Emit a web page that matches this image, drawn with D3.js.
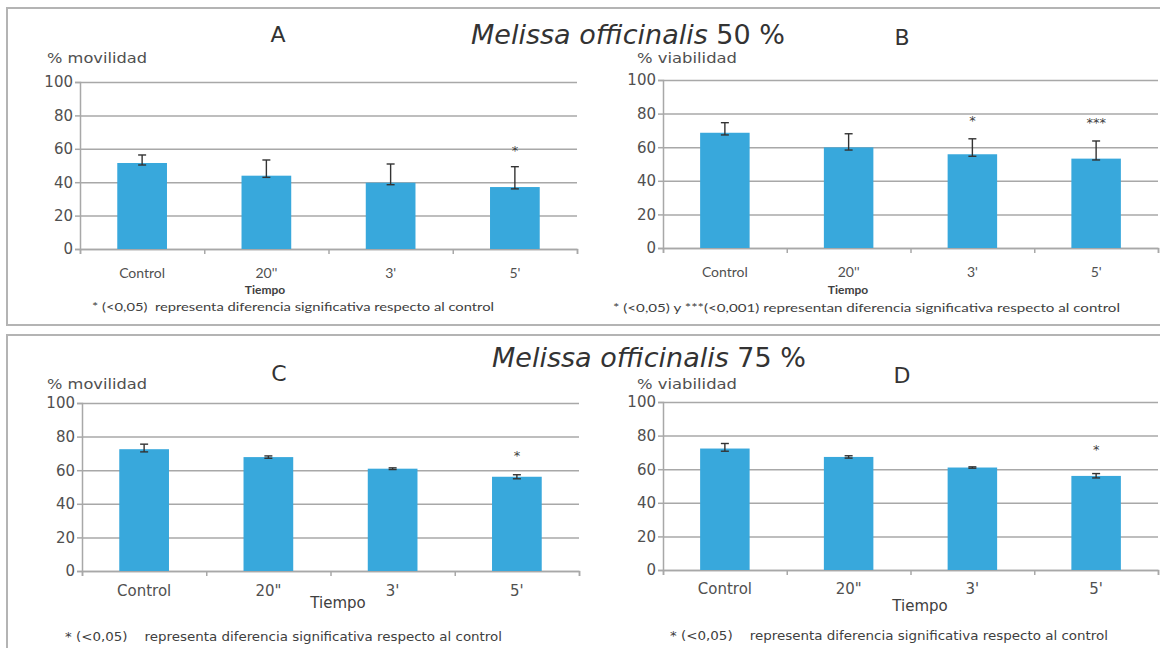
<!DOCTYPE html>
<html>
<head>
<meta charset="utf-8">
<script src="https://cdn.jsdelivr.net/npm/d3@7"></script>
<style>
  body { margin: 0; background: #fff; }
  svg text { fill: #404040; }
</style>
</head>
<body>
<div id="chart"></div>
<script>
// data
var catsTop = ["Control", "20''", "3'", "5'"];
var catsBottom = ["Control", "20\"", "3'", "5'"];
var yTicks = [0, 20, 40, 60, 80, 100];

// A: % movilidad, 50 %
var movil50 = [51.5, 43.9, 39.7, 37.1];
var movil50Low = [50.3, 42.9, 38.5, 36.0];
var movil50High = [56.3, 53.3, 50.9, 49.3];
var movil50Sig = ["", "", "", "*"];
var movil50SigAt = [0, 0, 0, 61];

// B: % viabilidad, 50 %
var viab50 = [68.6, 59.9, 55.8, 53.2];
var viab50Low = [67.3, 58.3, 54.6, 52.4];
var viab50High = [74.6, 68.0, 65.0, 63.7];
var viab50Sig = ["", "", "*", "***"];
var viab50SigAt = [0, 0, 78, 77];

// C: % movilidad, 75 %
var movil75 = [72.5, 67.8, 60.9, 56.1];
var movil75Low = [70.9, 67.1, 60.4, 54.9];
var movil75High = [75.5, 68.5, 61.4, 57.3];
var movil75Sig = ["", "", "", "*"];
var movil75SigAt = [0, 0, 0, 71];

// D: % viabilidad, 75 %
var viab75 = [72.3, 67.3, 61.0, 56.0];
var viab75Low = [70.7, 66.6, 60.6, 54.8];
var viab75High = [75.3, 68.0, 61.4, 57.4];
var viab75Sig = ["", "", "", "*"];
var viab75SigAt = [0, 0, 0, 74];

var svg = d3.select("#chart")
    .append("svg")
    .attr("width", 1160)
    .attr("height", 648);

// the two framed boxes
svg.append("rect").attr("x", 7).attr("y", 8).attr("width", 1170).attr("height", 317)
    .attr("fill", "none").attr("stroke", "#b4b4b4").attr("stroke-width", 2);
svg.append("rect").attr("x", 7).attr("y", 335).attr("width", 1170).attr("height", 330)
    .attr("fill", "none").attr("stroke", "#b4b4b4").attr("stroke-width", 2);

function title(cx, cy, pct) {
    var t = svg.append("text")
        .attr("x", cx).attr("y", cy)
        .attr("text-anchor", "middle")
        .style("font-family", "DejaVu Sans")
        .style("font-size", "27px")
        .style("fill", "#333");
    t.append("tspan").style("font-style", "italic").text("Melissa officinalis");
    t.append("tspan").text(" " + pct + " %");
}
title(628, 44, 50);
title(649, 367, 75);

function panel(p) {
    var x = d3.scaleBand().domain(p.cats).range([p.x0, p.x1])
        .paddingInner(0.6).paddingOuter(0.3);
    var xEdge = d3.scaleLinear().domain([0, p.cats.length]).range([p.x0, p.x1]);
    var y = d3.scaleLinear().domain([0, 100]).range([p.yZero, p.yTop]);
    var g = svg.append("g");
    var w = p.x1 - p.x0;

    // grid
    g.append("g")
        .attr("transform", `translate(${p.x0},0)`)
        .call(d3.axisLeft(y).tickValues(yTicks).tickSize(-w).tickFormat(""))
        .call(s => s.select(".domain").remove())
        .selectAll("line").attr("stroke", "#a8a8a8").attr("stroke-width", 1.5);

    // y axis with small stubs
    var ya = g.append("g")
        .attr("transform", `translate(${p.x0},0)`)
        .call(d3.axisLeft(y).tickValues(yTicks).tickSize(5).tickPadding(2));
    ya.select(".domain").attr("stroke", "#a8a8a8").attr("stroke-width", 1.5);
    ya.selectAll("line").attr("stroke", "#a8a8a8").attr("stroke-width", 1.5);
    ya.selectAll("text")
        .style("font-family", "DejaVu Sans").style("font-size", "15px").style("fill", "#505050");

    // x axis boundary ticks
    var xa = g.append("g")
        .attr("transform", `translate(0,${p.yZero})`)
        .call(d3.axisBottom(xEdge).tickValues(d3.range(p.cats.length + 1)).tickSize(5).tickFormat(""));
    xa.select(".domain").attr("stroke", "#a8a8a8").attr("stroke-width", 1.5);
    xa.selectAll("line").attr("stroke", "#a8a8a8").attr("stroke-width", 1.5);

    // category labels
    var xl = g.append("g")
        .attr("transform", `translate(0,${p.yZero})`)
        .call(d3.axisBottom(x).tickSize(0).tickPadding(p.labelPad));
    xl.select(".domain").remove();
    xl.selectAll("text")
        .style("font-family", p.labelFont).style("font-size", p.labelSize).style("fill", "#505050");

    // bars
    g.selectAll(".bar").data(p.values).enter().append("rect")
        .attr("x", (d, i) => x(p.cats[i]))
        .attr("y", d => y(d))
        .attr("width", x.bandwidth())
        .attr("height", d => y(0) - y(d))
        .attr("fill", "#38a8dc");

    // error bars
    var eb = g.selectAll(".err").data(p.values).enter().append("g")
        .attr("stroke", "#333").attr("stroke-width", 1.4);
    eb.append("line")
        .attr("x1", (d, i) => x(p.cats[i]) + x.bandwidth() / 2)
        .attr("x2", (d, i) => x(p.cats[i]) + x.bandwidth() / 2)
        .attr("y1", (d, i) => y(p.low[i]))
        .attr("y2", (d, i) => y(p.high[i]));
    [p.low, p.high].forEach(function (arr) {
        eb.append("line")
            .attr("x1", (d, i) => x(p.cats[i]) + x.bandwidth() / 2 - 4)
            .attr("x2", (d, i) => x(p.cats[i]) + x.bandwidth() / 2 + 4)
            .attr("y1", (d, i) => y(arr[i]))
            .attr("y2", (d, i) => y(arr[i]));
    });

    // significance marks
    g.selectAll(".sig").data(p.sig).enter().append("text")
        .attr("x", (d, i) => x(p.cats[i]) + x.bandwidth() / 2)
        .attr("y", (d, i) => y(p.sigAt[i]) + 8)
        .attr("text-anchor", "middle")
        .style("font-family", "DejaVu Sans").style("font-size", "13px").style("fill", "#404040")
        .text(d => d);

    // panel letter
    g.append("text").attr("x", p.letterX).attr("y", p.letterY).attr("text-anchor", "middle")
        .style("font-family", "DejaVu Sans").style("font-size", "22px").style("fill", "#333")
        .text(p.letter);
    // y axis title
    g.append("text").attr("x", p.yTitleX).attr("y", p.yTitleY)
        .attr("textLength", 100).attr("lengthAdjust", "spacingAndGlyphs")
        .style("font-family", "DejaVu Sans").style("font-size", "14px").style("fill", "#505050")
        .text(p.yTitle);
    // x axis title
    g.append("text").attr("x", p.tiempoX).attr("y", p.tiempoY).attr("text-anchor", "middle")
        .style("font-family", p.tiempoFont).style("font-size", p.tiempoSize)
        .style("font-weight", p.tiempoWeight).style("fill", "#404040")
        .text("Tiempo");
    // footnote
    g.append("text").attr("x", p.noteX).attr("y", p.noteY)
        .attr("textLength", p.noteLen).attr("lengthAdjust", "spacingAndGlyphs")
        .style("font-family", p.noteFont).style("font-size", "12px").style("fill", "#404040")
        .style("white-space", "pre")
        .text(p.note);
}

panel({
    cats: catsTop, values: movil50, low: movil50Low, high: movil50High,
    sig: movil50Sig, sigAt: movil50SigAt,
    x0: 80, x1: 577, yZero: 249, yTop: 82,
    letter: "A", letterX: 278, letterY: 42,
    yTitle: "% movilidad", yTitleX: 47, yTitleY: 63,
    labelFont: "Lato", labelSize: "14px", labelPad: 19,
    tiempoX: 265, tiempoY: 294, tiempoFont: "Lato", tiempoSize: "12px", tiempoWeight: "bold",
    noteX: 92, noteY: 311, noteLen: 402, noteFont: "Lato",
    note: "* (<0,05)  representa diferencia significativa respecto al control"
});

panel({
    cats: catsTop, values: viab50, low: viab50Low, high: viab50High,
    sig: viab50Sig, sigAt: viab50SigAt,
    x0: 663, x1: 1158, yZero: 248, yTop: 80,
    letter: "B", letterX: 902, letterY: 45,
    yTitle: "% viabilidad", yTitleX: 637, yTitleY: 63,
    labelFont: "Lato", labelSize: "14px", labelPad: 19,
    tiempoX: 848, tiempoY: 294, tiempoFont: "Lato", tiempoSize: "12px", tiempoWeight: "bold",
    noteX: 613, noteY: 312, noteLen: 507, noteFont: "Lato",
    note: "* (<0,05) y ***(<0,001) representan diferencia significativa respecto al control"
});

panel({
    cats: catsBottom, values: movil75, low: movil75Low, high: movil75High,
    sig: movil75Sig, sigAt: movil75SigAt,
    x0: 82, x1: 579, yZero: 571, yTop: 403,
    letter: "C", letterX: 279, letterY: 381,
    yTitle: "% movilidad", yTitleX: 47, yTitleY: 389,
    labelFont: "DejaVu Sans", labelSize: "15px", labelPad: 14,
    tiempoX: 338, tiempoY: 608, tiempoFont: "DejaVu Sans", tiempoSize: "15px", tiempoWeight: "normal",
    noteX: 65, noteY: 641, noteLen: 437, noteFont: "DejaVu Sans",
    note: "* (<0,05)    representa diferencia significativa respecto al control"
});

panel({
    cats: catsBottom, values: viab75, low: viab75Low, high: viab75High,
    sig: viab75Sig, sigAt: viab75SigAt,
    x0: 663, x1: 1158, yZero: 570, yTop: 402,
    letter: "D", letterX: 902, letterY: 383,
    yTitle: "% viabilidad", yTitleX: 637, yTitleY: 389,
    labelFont: "DejaVu Sans", labelSize: "15px", labelPad: 13,
    tiempoX: 920, tiempoY: 611, tiempoFont: "DejaVu Sans", tiempoSize: "15px", tiempoWeight: "normal",
    noteX: 670, noteY: 640, noteLen: 438, noteFont: "DejaVu Sans",
    note: "* (<0,05)    representa diferencia significativa respecto al control"
});
</script>
</body>
</html>
